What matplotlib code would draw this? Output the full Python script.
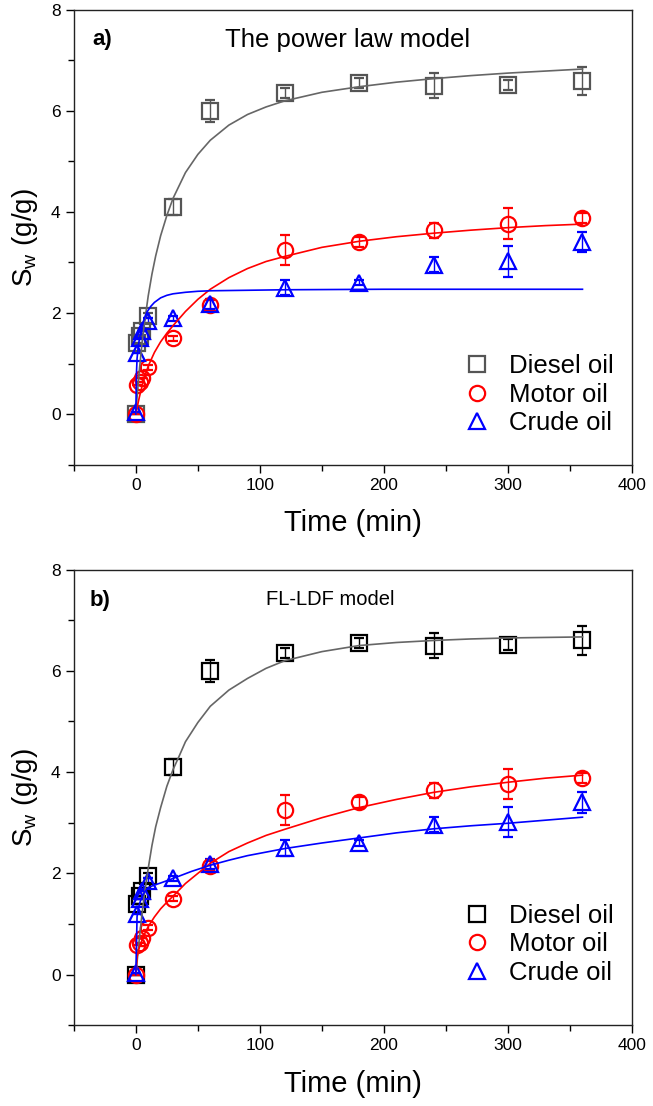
import numpy as np
import matplotlib
matplotlib.use('Agg')
import matplotlib.pyplot as plt
from matplotlib.ticker import MultipleLocator

plt.rcParams['font.family'] = ['Liberation Sans', 'DejaVu Sans']
plt.rcParams['mathtext.fontset'] = 'custom'
plt.rcParams['mathtext.rm'] = 'Liberation Sans'

# experimental data (same in both panels)
t_exp = [0, 1, 3, 5, 10, 30, 60, 120, 180, 240, 300, 360]
diesel = [0, 1.4, 1.55, 1.65, 1.95, 4.1, 6.0, 6.35, 6.55, 6.5, 6.52, 6.6]
diesel_err = [0, 0, 0, 0, 0.05, 0.15, 0.22, 0.1, 0.1, 0.25, 0.1, 0.28]
motor = [0, 0.58, 0.63, 0.72, 0.93, 1.5, 2.15, 3.25, 3.4, 3.64, 3.77, 3.88]
motor_err = [0, 0, 0, 0, 0.05, 0.05, 0.1, 0.3, 0.1, 0.15, 0.3, 0.1]
crude = [0.03, 1.2, 1.5, 1.65, 1.85, 1.9, 2.18, 2.5, 2.6, 2.96, 3.02, 3.4]
crude_err = [0, 0, 0, 0, 0.05, 0.05, 0.1, 0.15, 0.05, 0.15, 0.3, 0.2]

# a) power law model curves (read off the figure)
t_d_a = [0, 1, 2, 3, 5, 7, 10, 13, 16, 20, 25, 30, 40, 50, 60, 75, 90, 105,
         120, 150, 180, 210, 240, 270, 300, 330, 360]
fit_d_a = [0, 0.33, 0.63, 0.91, 1.4, 1.81, 2.34, 2.77, 3.13, 3.53, 3.93, 4.27,
           4.78, 5.14, 5.42, 5.72, 5.93, 6.08, 6.2, 6.37, 6.48, 6.57, 6.64,
           6.7, 6.75, 6.79, 6.83]
t_m_a = [0, 1, 2, 3, 5, 7, 10, 15, 20, 25, 30, 40, 50, 60, 75, 90, 105, 120,
         150, 180, 210, 240, 270, 300, 330, 360]
fit_m_a = [0, 0.12, 0.24, 0.35, 0.55, 0.72, 0.95, 1.22, 1.43, 1.6, 1.75, 2.03,
           2.27, 2.47, 2.7, 2.88, 3.02, 3.12, 3.3, 3.42, 3.51, 3.58, 3.64, 3.69,
           3.73, 3.76]
t_c_a = [0, 0.5, 1, 2, 3, 4, 5, 7, 9, 12, 15, 20, 25, 30, 40, 50, 60, 90, 120,
         200, 360]
fit_c_a = [0, 0.8, 1.1, 1.35, 1.5, 1.63, 1.74, 1.9, 2.02, 2.13, 2.21, 2.3, 2.35,
           2.38, 2.41, 2.43, 2.44, 2.45, 2.46, 2.47, 2.47]

# b) FL-LDF model curves
t_d_b = [0, 1, 2, 3, 5, 7, 10, 13, 16, 20, 25, 30, 35, 40, 50, 60, 75, 90, 105,
         120, 150, 180, 210, 240, 270, 300, 330, 360]
fit_d_b = [0, 0.25, 0.5, 0.75, 1.2, 1.6, 2.1, 2.55, 2.92, 3.3, 3.72, 4.05, 4.32,
           4.6, 4.98, 5.3, 5.62, 5.85, 6.05, 6.2, 6.38, 6.5, 6.56, 6.6, 6.63,
           6.65, 6.66, 6.67]
t_m_b = [0, 1, 2, 3, 5, 7, 10, 15, 20, 25, 30, 40, 50, 60, 75, 90, 105, 120,
         150, 180, 210, 240, 270, 300, 330, 360]
fit_m_b = [0, 0.35, 0.46, 0.55, 0.68, 0.8, 0.95, 1.14, 1.3, 1.43, 1.55, 1.8,
           2.0, 2.2, 2.43, 2.6, 2.75, 2.87, 3.1, 3.3, 3.46, 3.6, 3.71, 3.8,
           3.88, 3.94]
t_c_b = [0, 1, 2, 3, 5, 7, 10, 15, 20, 30, 45, 60, 75, 90, 105, 120, 150, 180,
         210, 240, 270, 300, 330, 360]
fit_c_b = [0, 1.15, 1.3, 1.4, 1.55, 1.63, 1.72, 1.77, 1.81, 1.9, 2.04, 2.16,
           2.26, 2.35, 2.42, 2.49, 2.6, 2.7, 2.8, 2.88, 2.94, 2.99, 3.05, 3.11]

labels = ['Diesel oil', 'Motor oil', 'Crude oil']

fig = plt.figure(figsize=(6.53, 11.06), dpi=100)
ax_a = fig.add_axes([0.113, 0.580, 0.855, 0.411])
ax_b = fig.add_axes([0.113, 0.073, 0.855, 0.412])

panels = [
    (ax_a, 'a)', 'The power law model', 18.5, '#555555',
     [(t_d_a, fit_d_a), (t_m_a, fit_m_a), (t_c_a, fit_c_a)],
     0.034, 0.935, 0.49, 0.935, 0.243),
    (ax_b, 'b)', 'FL-LDF model', 14.5, 'black',
     [(t_d_b, fit_d_b), (t_m_b, fit_m_b), (t_c_b, fit_c_b)],
     0.029, 0.932, 0.46, 0.935, 0.267),
]

for ax, tag, title, tsize, dcol, fits, xtag, ytag, xtitle, ytitle, leg_y in panels:
    series = [(diesel, diesel_err, 's', dcol),
              (motor, motor_err, 'o', 'red'),
              (crude, crude_err, '^', 'blue')]
    handles = []
    for (y, e, m, c), lab in zip(series, labels):
        h = ax.errorbar(t_exp, y, yerr=e, fmt=m, mfc='none', mec=c, ecolor=c,
                        ms=11, mew=1.6, elinewidth=1.0, capsize=3.5, capthick=1.0,
                        label=lab, zorder=3)
        handles.append(h[0])
    curve_cols = ['#666666', 'red', 'blue']
    for (tt, ff), c in zip(fits, curve_cols):
        ax.plot(tt, ff, color=c, lw=1.2, zorder=4)

    ax.set_xlim(-50, 400)
    ax.set_ylim(-1, 8)
    ax.xaxis.set_major_locator(MultipleLocator(100))
    ax.xaxis.set_minor_locator(MultipleLocator(50))
    ax.yaxis.set_major_locator(MultipleLocator(2))
    ax.yaxis.set_minor_locator(MultipleLocator(1))
    ax.tick_params(which='major', direction='out', length=6, width=1, labelsize=12.5)
    ax.tick_params(which='minor', direction='out', length=4, width=1)
    for s in ax.spines.values():
        s.set_linewidth(1.0)
        s.set_color('#222222')
    ax.set_xlabel('Time (min)', fontsize=21, labelpad=12)
    ax.set_ylabel(r'S$_\mathrm{w}$ (g/g)', fontsize=20, labelpad=8)

    ax.text(xtag, ytag, tag, transform=ax.transAxes, fontsize=16,
            fontweight='bold', va='center', ha='left')
    ax.text(xtitle, ytitle, title, transform=ax.transAxes, fontsize=tsize,
            va='center', ha='center')

    ax.legend(handles, labels, loc='upper left', bbox_to_anchor=(0.704, leg_y),
              frameon=False, fontsize=18.5, handletextpad=0.85, labelspacing=0.18,
              handlelength=0.8, borderaxespad=0, borderpad=0)

fig.savefig('out.png', dpi=100)
